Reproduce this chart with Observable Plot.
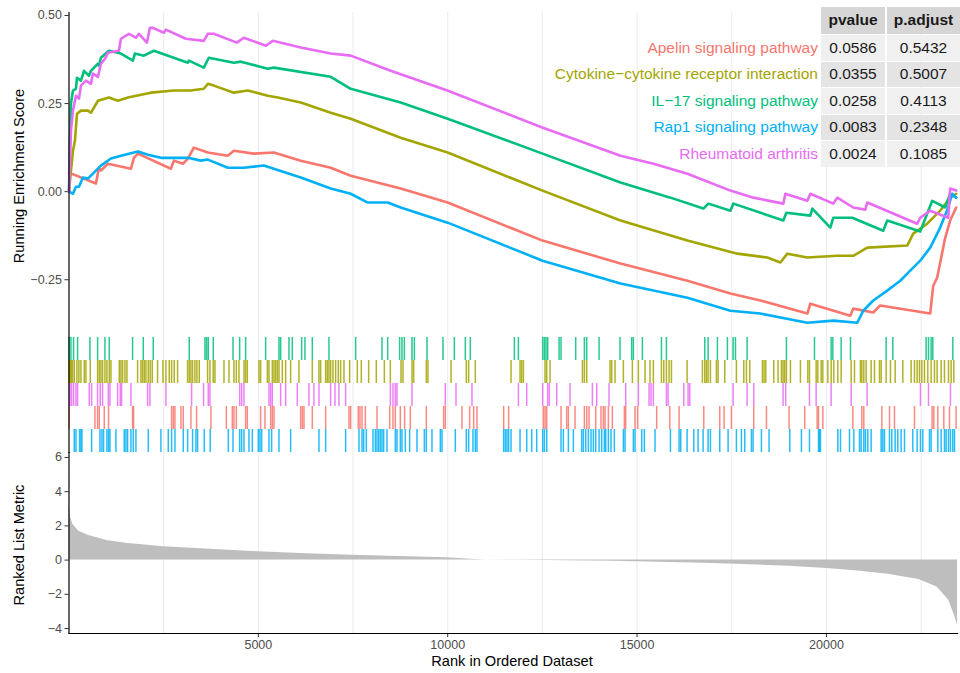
<!DOCTYPE html>
<html><head><meta charset="utf-8">
<script src="https://cdn.jsdelivr.net/npm/d3@7"></script>
<script src="https://cdn.jsdelivr.net/npm/@observablehq/plot@0.6"></script>
<style>
body{margin:0;background:#fff;font-family:"Liberation Sans",Arial,Helvetica,sans-serif;}
#wrap{position:relative;width:960px;height:673px;overflow:hidden;}
#wrap svg{position:absolute;left:0;background:none;}
.ttl{position:absolute;font-size:14.6px;color:#000;white-space:nowrap;}
.cell{position:absolute;font-size:15.5px;display:flex;align-items:center;justify-content:center;color:#1a1a1a;}
.lab{position:absolute;font-size:15.5px;white-space:nowrap;text-align:right;}
</style></head><body><div id="wrap"></div>
<script>
// ---------------- data ----------------
const pathways = ["Apelin signaling pathway", "Cytokine\u2212cytokine receptor interaction", "IL\u221217 signaling pathway", "Rap1 signaling pathway", "Rheumatoid arthritis"];
const colors = ["#F8766D", "#A3A500", "#00BF7D", "#00B0F6", "#E76BF3"];
const pvalues = ["0.0586", "0.0355", "0.0258", "0.0083", "0.0024"];
const padjusts = ["0.5432", "0.5007", "0.4113", "0.2348", "0.1085"];
const rugOrder = ["IL\u221217 signaling pathway", "Cytokine\u2212cytokine receptor interaction", "Rheumatoid arthritis", "Apelin signaling pathway", "Rap1 signaling pathway"];

const nGenes = 23460;
const xTicks = [5000, 10000, 15000, 20000];
const gridX = [2500, 5000, 7500, 10000, 12500, 15000, 17500, 20000, 22500];
const esTicks = [-0.25, 0, 0.25, 0.5];
const metricTicks = [-4, -2, 0, 2, 4, 6];

// running enrichment score: [rank, ES]
const esApelin = [[1,0.054],[712,0.023],[791,0.068],[844,0.060],[1029,0.079],[1636,0.065],[1715,0.096],[1820,0.108],[2691,0.065],[2770,0.088],[3007,0.079],[3139,0.094],[3297,0.125],[3667,0.111],[4194,0.102],[4353,0.116],[4880,0.108],[5408,0.111],[6120,0.088],[6912,0.068],[7439,0.045],[8758,0.009],[9998,-0.031],[12504,-0.139],[14562,-0.204],[16329,-0.253],[17464,-0.289],[18255,-0.309],[19495,-0.346],[19574,-0.318],[20629,-0.352],[20708,-0.332],[21236,-0.343],[21420,-0.323],[22740,-0.346],[22819,-0.267],[22924,-0.244],[23135,-0.131],[23267,-0.082],[23425,-0.045]];
const esCytokine = [[1,0],[53,0.060],[106,0.116],[158,0.145],[211,0.221],[317,0.230],[501,0.230],[580,0.224],[765,0.258],[1055,0.267],[1293,0.258],[1556,0.267],[2163,0.281],[2770,0.287],[3218,0.287],[3561,0.292],[3667,0.306],[3825,0.301],[4353,0.281],[4722,0.287],[5250,0.272],[5513,0.267],[6120,0.253],[6912,0.224],[7439,0.207],[8758,0.153],[9998,0.111],[12504,0.003],[14562,-0.082],[16329,-0.139],[17648,-0.176],[18439,-0.187],[18783,-0.201],[18967,-0.176],[19495,-0.187],[20286,-0.182],[20708,-0.182],[21078,-0.159],[22133,-0.153],[22291,-0.119],[22660,-0.091],[23003,-0.054],[23267,-0.017],[23425,-0.006]];
const esIL17 = [[1,0],[26,0.145],[53,0.250],[106,0.287],[185,0.292],[211,0.323],[317,0.315],[396,0.343],[528,0.329],[580,0.343],[765,0.363],[791,0.358],[844,0.380],[1055,0.400],[1372,0.392],[1688,0.372],[1741,0.392],[1979,0.386],[2242,0.400],[3139,0.366],[3166,0.372],[3561,0.352],[3693,0.380],[3825,0.377],[4353,0.366],[4537,0.369],[5250,0.349],[5408,0.352],[6912,0.326],[7439,0.292],[8758,0.253],[9998,0.207],[12504,0.108],[14562,0.026],[15881,-0.017],[16751,-0.048],[16883,-0.034],[17464,-0.054],[17543,-0.034],[18862,-0.082],[18941,-0.060],[19574,-0.068],[19627,-0.048],[20102,-0.102],[20181,-0.074],[20682,-0.074],[21500,-0.111],[21605,-0.082],[22476,-0.113],[22793,-0.026],[23135,-0.045],[23267,-0.006],[23425,-0.017]];
const esRap1 = [[1,0],[106,-0.006],[185,0.014],[264,0.014],[369,0.040],[501,0.037],[633,0.051],[844,0.074],[1108,0.094],[1372,0.102],[1820,0.114],[2084,0.105],[2427,0.096],[2770,0.096],[3139,0.096],[3482,0.088],[3667,0.091],[4194,0.068],[4617,0.068],[5144,0.074],[5408,0.065],[6120,0.040],[6912,0.009],[7439,-0.006],[7888,-0.031],[8415,-0.031],[8758,-0.045],[9998,-0.088],[12504,-0.196],[14562,-0.261],[16329,-0.301],[17464,-0.338],[18255,-0.346],[19495,-0.372],[20181,-0.366],[20814,-0.372],[20972,-0.338],[21236,-0.309],[21605,-0.281],[21948,-0.253],[22212,-0.224],[22476,-0.196],[22740,-0.159],[23003,-0.102],[23214,-0.045],[23320,-0.006],[23425,-0.017]];
const esRheumatoid = [[1,0],[53,0.173],[106,0.230],[185,0.272],[264,0.264],[317,0.301],[448,0.315],[580,0.306],[633,0.335],[765,0.326],[844,0.363],[950,0.377],[1029,0.394],[1319,0.400],[1372,0.434],[1583,0.448],[1767,0.437],[1847,0.448],[2058,0.423],[2137,0.465],[2216,0.465],[2506,0.451],[2559,0.460],[3086,0.434],[3561,0.428],[3667,0.448],[3825,0.448],[4432,0.423],[4617,0.437],[5197,0.414],[5382,0.428],[6120,0.409],[6912,0.392],[7439,0.386],[8494,0.343],[9990,0.287],[12496,0.182],[14562,0.102],[15432,0.079],[16329,0.051],[17464,0.003],[18070,-0.017],[18862,-0.034],[18914,-0.006],[19495,-0.026],[19574,-0.006],[20181,-0.034],[20286,-0.017],[20708,-0.045],[21025,-0.051],[21078,-0.031],[22397,-0.091],[22476,-0.074],[22740,-0.054],[23214,-0.074],[23267,0.009],[23425,0.003]];

// gene-set hit positions (rank)
const hitsApelin = [1,686,756,800,932,1046,1680,1706,2710,2754,2798,2956,3018,3220,3370,3748,4155,4313,4357,4419,4665,4709,5061,5175,5325,5369,5413,6117,6161,6205,6425,6777,7393,7437,7639,7683,7737,7825,8133,8467,8555,8617,8749,8863,9013,9435,9893,9937,10377,10579,10685,10773,11477,11609,12526,12570,12614,12992,13142,13186,13362,13608,13670,13732,13908,14048,14110,14154,14242,14348,14664,14700,14946,15016,15518,15863,16109,16761,17183,17297,17491,18081,18415,19013,19427,19754,19790,19904,20696,20934,20986,21462,21664,21796,22324,22790,22834,22940,23098,23248,23424];
const hitsCytokine = [5,8,34,61,96,140,210,263,316,404,448,562,756,800,844,888,950,1002,1064,1108,1328,1372,1416,1478,1530,1812,1900,1944,1988,2032,2094,2146,2199,2340,2481,2560,2648,2710,2780,2868,3132,3176,3220,3264,3326,3378,3440,3660,3722,3810,3855,4093,4225,4357,4419,4489,4621,4665,4709,5017,5061,5237,5281,5369,5413,5457,5501,5545,5633,5721,5853,6073,6425,6601,6645,6777,6821,6865,6909,6971,7041,7111,7173,7261,7411,7613,7719,7913,8115,8327,8485,8767,8819,9057,9101,9435,9479,10087,10491,10553,10729,11672,11910,11954,11998,12570,12614,12702,13556,13608,13670,14286,14330,14418,14638,14876,15034,15210,15342,15430,15643,15705,15775,15845,15907,16321,16725,16787,16831,16875,16937,17095,17139,17315,17623,17817,17887,17975,18309,18353,18397,18609,18723,18811,18855,18899,18943,19049,19313,19508,19552,19728,19772,19860,19904,20036,20124,20194,20300,20388,20652,20740,20898,20934,20986,21048,21180,21268,21400,21444,21576,21690,21814,22016,22236,22324,22394,22456,22518,22588,22676,22764,22852,22922,23028,23116,23222,23292,23362];
const hitsIL17 = [1,52,122,228,554,756,950,1064,1680,1962,2226,3176,3590,3634,3678,3810,4331,4507,4665,5193,5545,5589,5809,5897,6143,6231,6425,6865,7569,8265,8415,8731,8793,8855,9057,9119,9453,9875,10175,10465,10597,11760,11866,12508,12552,12596,12640,12940,12992,13380,13608,13670,13996,14550,14858,14902,15140,15643,15775,16787,16875,17121,17385,17535,17597,17905,18943,19684,20124,20168,20388,20634,21576,21752,22632,22694,22764,22808,23336];
const hitsRap1 = [140,184,281,316,342,598,818,870,914,1002,1046,1082,1240,1460,1504,1548,1636,1698,1768,2094,2428,2622,2710,2798,3018,3132,3264,3352,3396,3572,3730,4207,4331,4507,4559,4621,4753,4841,5000,5043,5087,5281,5351,5545,5853,6601,6777,7305,7657,7737,7781,7851,8027,8089,8133,8177,8221,8265,8309,8397,8617,8661,8749,8793,8881,8995,9189,9383,9435,9585,9805,9849,10201,10491,10553,10667,10729,10773,11477,11521,11565,11609,11672,11910,12086,12218,12350,12508,12552,12614,12992,13054,13186,13318,13538,13582,13644,13714,13784,13846,13908,13996,14066,14136,14172,14242,14312,14400,14638,14682,14902,14946,15122,15192,15474,15881,16109,16153,16321,16497,16611,16743,16875,16937,17183,17403,17623,17755,17843,18019,18063,18283,18485,19031,19339,19552,19790,19816,19842,20300,20370,20608,20722,20872,20916,20986,21030,21092,21180,21444,21488,21532,21664,21726,21814,21884,21972,22060,22280,22394,22482,22544,22720,22764,22940,23028,23116,23160,23222,23274,23336,23380];
const hitsRheumatoid = [5,26,70,122,184,228,536,598,756,826,888,1038,1082,1284,1354,1390,1636,2076,2138,2560,3238,3554,3678,3722,4507,4559,4621,5281,5325,5369,5589,5721,6029,6337,6469,6601,6909,7023,7129,7305,8485,8555,8617,8661,9057,9937,10219,10641,11866,12086,12508,12640,12684,12878,13230,13820,13934,14260,14700,15034,15316,15368,15430,15775,15819,16233,16347,16391,17535,17905,18081,18855,18925,19552,19728,20124,20652,21074,22482,22694,23274];

// ranked list metric
const metricRank  = [1, 5, 30, 100, 250, 500, 1000, 1500, 2500, 3850, 5000, 6280, 7490, 8700, 9990, 10500, 10730, 11000, 12000, 12590, 14360, 15000, 16500, 17600, 19000, 20020, 20820, 21630, 22440, 22920, 23230, 23390, 23460];
const metricValue = [5.5, 3.4, 2.6, 2.1, 1.7, 1.45, 1.15, 0.98, 0.78, 0.62, 0.49, 0.37, 0.29, 0.21, 0.14, 0.07, 0.03, 0.005, -0.005, -0.02, -0.06, -0.1, -0.17, -0.24, -0.36, -0.49, -0.63, -0.82, -1.14, -1.57, -2.35, -3.3, -3.8];

// ---------------- build ----------------
const esSeries = [esApelin, esCytokine, esIL17, esRap1, esRheumatoid];
const hitSeries = [hitsApelin, hitsCytokine, hitsIL17, hitsRap1, hitsRheumatoid];
const esData = esSeries.flatMap((s, i) => s.map(([r, e]) => ({set: pathways[i], rank: r, es: e})));
const hitData = hitSeries.flatMap((s, i) => s.map(r => ({set: pathways[i], rank: r})));
const metricData = metricRank.map((r, i) => ({rank: r, value: metricValue[i]}));

const W = 960, ML = 68.5, MR = 3;
const font = '"Liberation Sans", Arial, Helvetica, sans-serif';
const baseStyle = {fontSize: "12.5px", fontFamily: font, color: "#4d4d4d", background: "none", overflow: "visible"};
const colorScale = {domain: pathways, range: colors};
const wrap = document.getElementById("wrap");

function place(svg, y) { svg.style.top = y + "px"; wrap.appendChild(svg); }

const esPlot = Plot.plot({
  width: W, height: 337, marginLeft: ML, marginRight: MR, marginTop: 12, marginBottom: 0,
  style: baseStyle,
  x: {domain: [1, nGenes], axis: null},
  y: {domain: [-0.414, 0.5085], axis: null},
  color: colorScale,
  marks: [
    Plot.ruleX(gridX, {stroke: "#ebebeb", strokeWidth: 1}),
    Plot.axisY({ticks: esTicks, tickFormat: d3.format(".2f"), tickSize: 4, tickPadding: 3, label: null, stroke: "#333"}),
    Plot.line(esData, {x: "rank", y: "es", z: "set", stroke: "set", strokeWidth: 2.6}),
    Plot.frame({anchor: "left", stroke: "#000", strokeWidth: 1.2})
  ]
});
place(esPlot, 0);

const rugPlot = Plot.plot({
  width: W, height: 115, marginLeft: ML, marginRight: MR, marginTop: 0, marginBottom: 0,
  style: baseStyle,
  x: {domain: [1, nGenes], axis: null},
  y: {type: "band", domain: rugOrder, axis: null, paddingInner: 0.02, paddingOuter: 0.01},
  color: colorScale,
  marks: [
    Plot.ruleX(gridX, {stroke: "#ebebeb", strokeWidth: 1}),
    Plot.tickX(hitData, {x: "rank", y: "set", stroke: "set", strokeWidth: 1.5, strokeOpacity: 0.85}),
    Plot.frame({anchor: "left", stroke: "#000", strokeWidth: 1.2})
  ]
});
place(rugPlot, 337);

const metricPlot = Plot.plot({
  width: W, height: 223, marginLeft: ML, marginRight: MR, marginTop: 2, marginBottom: 40,
  style: baseStyle,
  x: {domain: [1, nGenes], axis: null},
  y: {domain: [-4.29, 6.29], axis: null},
  marks: [
    Plot.ruleX(gridX, {stroke: "#ebebeb", strokeWidth: 1}),
    Plot.areaY(metricData, {x: "rank", y: "value", fill: "#bebebe"}),
    Plot.axisY({ticks: metricTicks, tickFormat: d => d3.format("d")(d), tickSize: 4, tickPadding: 3, label: null, stroke: "#333"}),
    Plot.axisX({ticks: xTicks, tickFormat: d => String(d), tickSize: 4, tickPadding: 3, label: null, stroke: "#333"}),
    Plot.frame({anchor: "left", stroke: "#000", strokeWidth: 1.2}),
    Plot.frame({anchor: "bottom", stroke: "#000", strokeWidth: 1.2})
  ]
});
place(metricPlot, 450);

// axis titles
function title(text, x, y, rot) {
  const d = document.createElement("div");
  d.className = "ttl"; d.textContent = text;
  d.style.left = x + "px"; d.style.top = y + "px";
  d.style.transform = "translate(-50%,-50%)" + (rot ? " rotate(-90deg)" : "");
  wrap.appendChild(d);
}
title("Running Enrichment Score", 19, 176, true);
title("Ranked List Metric", 19, 545, true);
title("Rank in Ordered Dataset", 512, 661, false);

// p-value table
const tbl = {labelRight: 818, col1: [821, 64], col2: [887, 73], headTop: 7, rowTop: 35, rowH: 26.5, cellH: 25.5};
function cell(text, x, y, w, h, bg, bold) {
  const d = document.createElement("div");
  d.className = "cell"; d.textContent = text;
  Object.assign(d.style, {left: x + "px", top: y + "px", width: w + "px", height: h + "px", background: bg, fontWeight: bold ? "bold" : "normal"});
  wrap.appendChild(d);
}
cell("pvalue", tbl.col1[0], tbl.headTop, tbl.col1[1], 26.5, "#d6d6d6", true);
cell("p.adjust", tbl.col2[0], tbl.headTop, tbl.col2[1], 26.5, "#d6d6d6", true);
pathways.forEach((p, i) => {
  const y = tbl.rowTop + i * tbl.rowH;
  const bg = i % 2 === 0 ? "#f0f0f0" : "#e4e4e4";
  cell(pvalues[i], tbl.col1[0], y, tbl.col1[1], tbl.cellH, bg, false);
  cell(padjusts[i], tbl.col2[0], y, tbl.col2[1], tbl.cellH, bg, false);
  const l = document.createElement("div");
  l.className = "lab"; l.textContent = p;
  Object.assign(l.style, {right: (960 - tbl.labelRight) + "px", top: (y + tbl.cellH / 2) + "px", transform: "translateY(-50%)", color: colors[i]});
  wrap.appendChild(l);
});
</script></body></html>
